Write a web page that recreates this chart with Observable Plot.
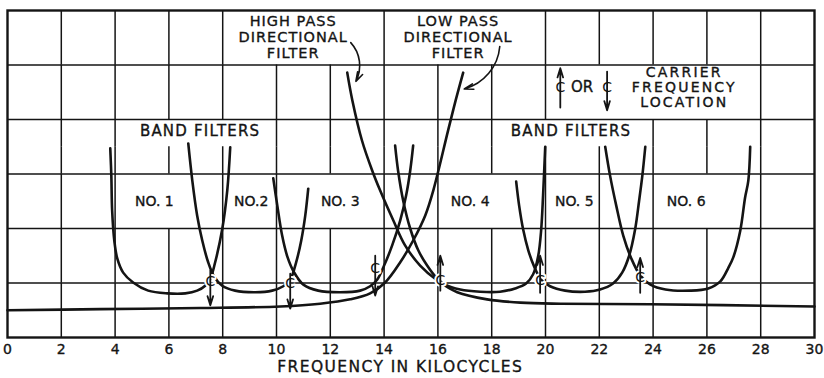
<!DOCTYPE html>
<html><head><meta charset="utf-8">
<script src="https://cdn.jsdelivr.net/npm/d3@7"></script>
<script src="https://cdn.jsdelivr.net/npm/@observablehq/plot@0.6"></script>
<style>
body{margin:0;background:#fff;}
#chart svg{display:block;}
</style></head><body><div id="chart"></div>
<script>
// ---- data (frequency in kHz, relative loss in grid units) ----
const xTicks = [0,2,4,6,8,10,12,14,16,18,20,22,24,26,28,30];
const yGridLines = [1,2,3,4,5];

const bandNames = ["NO. 1","NO.2","NO. 3","NO. 4","NO. 5","NO. 6"];
const bandLabelKHz = [5.46, 9.06, 12.37, 17.2, 21.07, 25.23];

const no1 = [[3.82,3.47],[3.86,2.97],[3.89,2.33],[3.97,1.78],[4.08,1.45],[4.30,1.19],[4.67,1.01],[5.23,0.86],[5.94,0.81],[6.61,0.81],[7.05,0.86],[7.35,0.95],[7.54,1.08],[7.72,1.38],[7.98,1.98],[8.17,2.70],[8.28,3.49]];
const no2 = [[6.72,3.56],[6.87,2.88],[7.05,2.24],[7.24,1.78],[7.46,1.38],[7.68,1.12],[7.98,0.95],[8.46,0.86],[9.21,0.83],[9.84,0.86],[10.25,0.94],[10.51,1.06],[10.73,1.38],[10.92,1.78],[11.07,2.24],[11.18,2.73]];
const no3 = [[9.88,2.92],[10.03,2.42],[10.21,1.87],[10.40,1.49],[10.66,1.19],[11.0,0.97],[11.55,0.86],[12.37,0.83],[13.11,0.86],[13.48,0.94],[13.74,1.06],[14.0,1.32],[14.3,1.69],[14.6,2.15],[14.82,2.61],[14.97,3.06],[15.08,3.52]];
const no4 = [[14.41,3.52],[14.52,3.06],[14.71,2.51],[14.97,2.0],[15.27,1.60],[15.6,1.32],[15.94,1.10],[16.27,0.97],[16.83,0.88],[17.57,0.84],[18.31,0.84],[18.87,0.90],[19.28,0.99],[19.54,1.16],[19.73,1.50],[19.84,1.98],[19.91,2.61],[19.99,3.50]];
const no5 = [[18.91,2.86],[19.02,2.42],[19.17,1.98],[19.36,1.60],[19.58,1.30],[19.84,1.06],[20.17,0.94],[20.73,0.86],[21.47,0.84],[22.03,0.88],[22.51,0.99],[22.85,1.19],[23.11,1.50],[23.33,1.98],[23.48,2.51],[23.6,2.97],[23.71,3.50]];
const no6 = [[22.22,3.50],[22.4,2.97],[22.63,2.42],[22.89,1.87],[23.19,1.45],[23.52,1.14],[23.9,0.97],[24.46,0.88],[25.38,0.86],[26.05,0.90],[26.5,1.03],[26.79,1.27],[26.98,1.47],[27.24,1.96],[27.42,2.57],[27.54,2.88],[27.61,3.50]];

const highPass = [[12.63,4.86],[12.82,4.35],[13.18,3.61],[13.56,3.06],[13.85,2.70],[14.34,2.15],[14.78,1.69],[15.34,1.32],[15.97,1.05],[16.72,0.83],[17.83,0.70],[19.07,0.64],[20.56,0.62],[23.9,0.61],[30,0.57]];
const lowPass = [[0,0.50],[3.45,0.52],[7.16,0.54],[10.14,0.57],[11.62,0.62],[12.74,0.70],[13.48,0.81],[14.04,1.01],[14.6,1.38],[15.08,1.78],[15.53,2.24],[15.83,2.70],[16.38,3.80],[16.66,4.35],[16.94,4.86]];

const carrierKHz  = [7.54, 10.51, 13.67, 16.09, 19.8, 23.52];
const carrierMark = [1.03, 0.99, 1.27, 1.05, 1.05, 1.10];
const carrierTail = [1.23, 1.17, 1.50, 0.86, 0.82, 0.82];
const carrierHead = [0.59, 0.53, 0.77, 1.50, 1.50, 1.46];

const legendKHz  = [20.55, 22.29];
const legendMark = [4.59, 4.59];
const legendTail = [4.22, 4.88];
const legendHead = [4.94, 4.17];

// grid cells left blank behind the lettering: [kHz, from, to]
const gridGaps = [[10,5,6],[12,5,6],[16,5,6],[18,5,6],[22,4,5],[24,4,5],[26,4,5],[6,3.5,4],[8,3.5,4],[20,3.5,4],[22,3.5,4],[6,2,3],[12,2,3],[18,2,3],[26,2,3]];

const titleLabels = ["HIGH PASS\nDIRECTIONAL\nFILTER", "LOW PASS\nDIRECTIONAL\nFILTER"];
const titleKHz = [10.62, 16.75];
const leaderFrom = [[12.76,5.41],[18.3,5.34]];
const leaderTo = [[12.95,4.70],[16.98,4.56]];
const bandFilterKHz = [7.16, 20.95];

// ---- build ----
const bounds = [0,1,2,3,3.5,4,5,6];
const vSegs = [];
for (const x of xTicks.filter(v => v > 0 && v < 30)) {
  for (let i = 0; i < bounds.length - 1; i++) {
    const a = bounds[i], b = bounds[i+1];
    if (!gridGaps.some(([gx,g1,g2]) => gx === x && a >= g1 && b <= g2)) vSegs.push({x, y1:a, y2:b});
  }
}
const bands = [no1,no2,no3,no4,no5,no6].flatMap((pts,i) => pts.map(([f,a]) => ({f, a, z:i})));
const dirFilters = [highPass, lowPass].flatMap((pts,i) => pts.map(([f,a]) => ({f, a, z:i})));
const carriers = carrierKHz.map((f,i) => ({f, m:carrierMark[i], t:carrierTail[i], h:carrierHead[i]}))
  .concat(legendKHz.map((f,i) => ({f, m:legendMark[i], t:legendTail[i], h:legendHead[i]})));
const leaders = leaderFrom.map((p,i) => ({x1:p[0], y1:p[1], x2:leaderTo[i][0], y2:leaderTo[i][1]}));

const ink = "#141414";
const font = "DejaVu Sans";
const bold = {fill: ink, stroke: ink, strokeWidth: 0.35};

const chart = Plot.plot({
  width: 824, height: 378,
  marginLeft: 7, marginRight: 10, marginTop: 10, marginBottom: 41,
  x: {domain: [0, 30], axis: null},
  y: {domain: [0, 6], axis: null},
  style: {fontFamily: font, background: "#fff", color: ink},
  marks: [
    Plot.ruleY(yGridLines, {stroke: ink, strokeWidth: 1.5}),
    Plot.ruleX(vSegs, {x: "x", y1: "y1", y2: "y2", stroke: ink, strokeWidth: 1.5}),
    Plot.frame({stroke: ink, strokeWidth: 2.4}),
    Plot.line(dirFilters, {x: "f", y: "a", z: "z", curve: "catmull-rom", stroke: ink, strokeWidth: 2.6}),
    Plot.line(bands, {x: "f", y: "a", z: "z", curve: "catmull-rom", stroke: ink, strokeWidth: 2.6}),
    Plot.text(carriers, {x: "f", y: "m", text: () => "C", fontSize: 14, fill: ink, stroke: "#fff", strokeWidth: 4}),
    Plot.arrow(carriers, {x1: "f", y1: "t", x2: "f", y2: "h", stroke: ink, strokeWidth: 1.8, headLength: 8, headAngle: 34}),
    Plot.text(["OR"], {x: 21.36, y: 4.59, text: d => d, fontSize: 15, ...bold}),
    Plot.text(["CARRIER\nFREQUENCY\nLOCATION"], {x: 25.16, y: 4.59, text: d => d, fontSize: 14, lineHeight: 1.06, ...bold}),
    Plot.text(titleLabels, {x: (d,i) => titleKHz[i], y: 5.52, text: d => d, fontSize: 14.5, lineHeight: 1.1, ...bold}),
    Plot.arrow(leaders, {x1: "x1", y1: "y1", x2: "x2", y2: "y2", bend: 35, stroke: ink, strokeWidth: 1.6, headLength: 9, headAngle: 34}),
    Plot.text(bandFilterKHz, {x: d => d, y: 3.78, text: () => "BAND FILTERS", fontSize: 15, ...bold}),
    Plot.text(bandNames, {x: (d,i) => bandLabelKHz[i], y: 2.49, text: d => d, fontSize: 14, ...bold}),
    Plot.text(xTicks, {x: d => d, frameAnchor: "bottom", lineAnchor: "middle", dy: 12, text: d => String(d), fontSize: 14, ...bold}),
    Plot.text(["FREQUENCY IN KILOCYCLES"], {x: 14.6, frameAnchor: "bottom", lineAnchor: "middle", dy: 30, text: d => d, fontSize: 15.5, ...bold})
  ]
});
// wide technical lettering: add letter spacing per label
const spacing = [["FREQUENCY IN", 1.4], ["CARRIER", 2.2], ["HIGH PASS", 1.0], ["LOW PASS", 1.0], ["BAND FILTERS", 1.2]];
d3.select(chart).selectAll("text").each(function() {
  const t = this.textContent;
  const s = spacing.find(([k]) => t.startsWith(k));
  if (s) this.style.letterSpacing = s[1] + "px";
});
document.getElementById("chart").append(chart);
</script>
</body></html>
